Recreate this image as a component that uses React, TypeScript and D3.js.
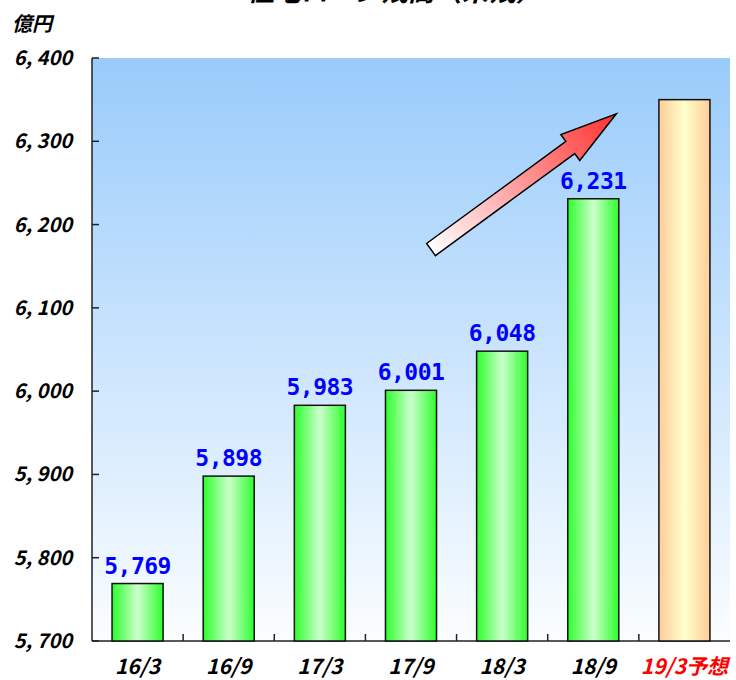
import React, { useEffect, useRef } from 'react'
import * as d3 from 'd3'

const categories = ['16/3', '16/9', '17/3', '17/9', '18/3', '18/9', '19/3予想']
const values = [5769, 5898, 5983, 6001, 6048, 6231, 6350]
const valueLabels = ['5,769', '5,898', '5,983', '6,001', '6,048', '6,231', '']
const yTicks = [5700, 5800, 5900, 6000, 6100, 6200, 6300, 6400]
const forecastIndex = 6

const W = 736
const H = 680

const App: React.FC = () => {
  const svgRef = useRef<SVGSVGElement | null>(null)

  useEffect(() => {
    if (!svgRef.current) return
    const svg = d3.select(svgRef.current)
    svg.selectAll('*').remove()

    const left = 92
    const right = 730
    const top = 58
    const bottom = 641

    const x = d3.scaleBand<string>().domain(categories).range([left, right]).paddingInner(0.44).paddingOuter(0.22)
    const y = d3.scaleLinear().domain([5700, 6400]).range([bottom, top])

    const defs = svg.append('defs')
    const bg = defs.append('linearGradient').attr('id', 'bg').attr('x1', 0).attr('y1', 0).attr('x2', 0).attr('y2', 1)
    bg.append('stop').attr('offset', '0%').attr('stop-color', '#99cbfb')
    bg.append('stop').attr('offset', '100%').attr('stop-color', '#fbfdff')

    const green = defs.append('linearGradient').attr('id', 'green').attr('x1', 0).attr('x2', 1).attr('y1', 0).attr('y2', 0)
    green.append('stop').attr('offset', '0%').attr('stop-color', '#2cff2c')
    green.append('stop').attr('offset', '50%').attr('stop-color', '#ccffcc')
    green.append('stop').attr('offset', '100%').attr('stop-color', '#2cff2c')

    const orange = defs.append('linearGradient').attr('id', 'orange').attr('x1', 0).attr('x2', 1).attr('y1', 0).attr('y2', 0)
    orange.append('stop').attr('offset', '0%').attr('stop-color', '#ffcc99')
    orange.append('stop').attr('offset', '50%').attr('stop-color', '#ffffcc')
    orange.append('stop').attr('offset', '100%').attr('stop-color', '#ffcc99')

    const arrowGrad = defs.append('linearGradient').attr('id', 'arrowGrad').attr('x1', 0).attr('x2', 1).attr('y1', 0).attr('y2', 0)
    arrowGrad.append('stop').attr('offset', '0%').attr('stop-color', '#ffffff')
    arrowGrad.append('stop').attr('offset', '100%').attr('stop-color', '#ff3030')

    // title (cut off at the top, as in the original)
    svg.append('text')
      .attr('x', 395)
      .attr('y', 1)
      .attr('text-anchor', 'middle')
      .attr('font-family', '"Noto Sans CJK JP", sans-serif')
      .attr('font-weight', 'bold')
      .attr('font-style', 'italic')
      .attr('font-size', 27)
      .attr('fill', '#000')
      .text('住宅ローン残高（末残）')

    // plot background
    svg.append('rect')
      .attr('x', left)
      .attr('y', top)
      .attr('width', right - left)
      .attr('height', bottom - top)
      .attr('fill', 'url(#bg)')

    // unit
    svg.append('text')
      .attr('x', 12)
      .attr('y', 31)
      .attr('font-family', '"Noto Sans CJK JP", sans-serif')
      .attr('font-weight', 'bold')
      .attr('font-style', 'italic')
      .attr('font-size', 20)
      .text('億円')

    // y axis
    const yAxis = svg.append('g').attr('transform', `translate(${left},0)`)
    yAxis.append('line').attr('x1', 0).attr('x2', 0).attr('y1', top).attr('y2', bottom).attr('stroke', '#222').attr('stroke-width', 1.5)
    yAxis.selectAll('line.tick').data(yTicks).join('line')
      .attr('class', 'tick')
      .attr('x1', 0).attr('x2', 7)
      .attr('y1', (d) => y(d)).attr('y2', (d) => y(d))
      .attr('stroke', '#222').attr('stroke-width', 1.5)
    yAxis.selectAll('text').data(yTicks).join('text')
      .attr('x', -20)
      .attr('y', (d) => y(d))
      .attr('dy', '0.35em')
      .attr('text-anchor', 'end')
      .attr('font-family', '"Noto Sans CJK JP", sans-serif')
      .attr('font-weight', 'bold')
      .attr('font-style', 'italic')
      .attr('font-size', 20)
      .attr('fill', '#000')
      .text((d) => d3.format(',')(d).replace(',', ', '))

    // x axis
    svg.append('line').attr('x1', left).attr('x2', right).attr('y1', bottom).attr('y2', bottom).attr('stroke', '#222').attr('stroke-width', 1.5)
    const step = x.step()
    const xTickPos = d3.range(1, categories.length).map((i) => left + i * step)
    svg.selectAll('line.xtick').data(xTickPos).join('line')
      .attr('class', 'xtick')
      .attr('x1', (d) => d).attr('x2', (d) => d)
      .attr('y1', bottom).attr('y2', bottom - 7)
      .attr('stroke', '#222').attr('stroke-width', 1.5)

    svg.selectAll('text.xlab').data(categories).join('text')
      .attr('class', 'xlab')
      .attr('x', (d) => (x(d) as number) + x.bandwidth() / 2)
      .attr('y', 674)
      .attr('text-anchor', 'middle')
      .attr('font-family', '"Noto Sans CJK JP", sans-serif')
      .attr('font-weight', 'bold')
      .attr('font-style', 'italic')
      .attr('font-size', 21)
      .attr('fill', (d, i) => (i === forecastIndex ? '#ff0000' : '#000'))
      .text((d) => d)

    // bars
    svg.selectAll('rect.bar').data(values).join('rect')
      .attr('class', 'bar')
      .attr('x', (d, i) => x(categories[i]) as number)
      .attr('y', (d) => y(d))
      .attr('width', x.bandwidth())
      .attr('height', (d) => bottom - y(d))
      .attr('fill', (d, i) => (i === forecastIndex ? 'url(#orange)' : 'url(#green)'))
      .attr('stroke', '#111')
      .attr('stroke-width', 1.5)

    // value labels
    svg.selectAll('text.val').data(values).join('text')
      .attr('class', 'val')
      .attr('x', (d, i) => (x(categories[i]) as number) + x.bandwidth() / 2)
      .attr('y', (d) => y(d) - 10)
      .attr('text-anchor', 'middle')
      .attr('font-family', '"DejaVu Sans Mono", monospace')
      .attr('font-weight', 'bold')
      .attr('font-size', 23)
      .attr('letter-spacing', -0.5)
      .attr('fill', '#0000ff')
      .text((d, i) => valueLabels[i])

    // trend arrow
    const cx = (c: string) => (x(c) as number) + x.bandwidth() / 2
    const tail: [number, number] = [cx('17/9') + 20, y(6170)]
    const tip: [number, number] = [cx('18/9') + 23, y(6333)]
    const len = Math.hypot(tip[0] - tail[0], tip[1] - tail[1])
    const ang = (Math.atan2(tip[1] - tail[1], tip[0] - tail[0]) * 180) / Math.PI
    const headLen = 57
    const sw = 7.5
    const hw = 16
    const arrowPts: [number, number][] = [
      [0, -sw], [len - headLen, -sw], [len - headLen, -hw], [len, 0],
      [len - headLen, hw], [len - headLen, sw], [0, sw]
    ]
    svg.append('path')
      .attr('transform', `translate(${tail[0]},${tail[1]}) rotate(${ang})`)
      .attr('d', d3.line()(arrowPts) + 'Z')
      .attr('fill', 'url(#arrowGrad)')
      .attr('stroke', '#000')
      .attr('stroke-width', 1.5)
      .attr('stroke-linejoin', 'miter')
  }, [])

  return (
    <div style={{ position: 'absolute', left: 0, top: 0, width: W, height: H, background: '#fff' }}>
      <svg ref={svgRef} width={W} height={H}></svg>
    </div>
  )
}

export default App
